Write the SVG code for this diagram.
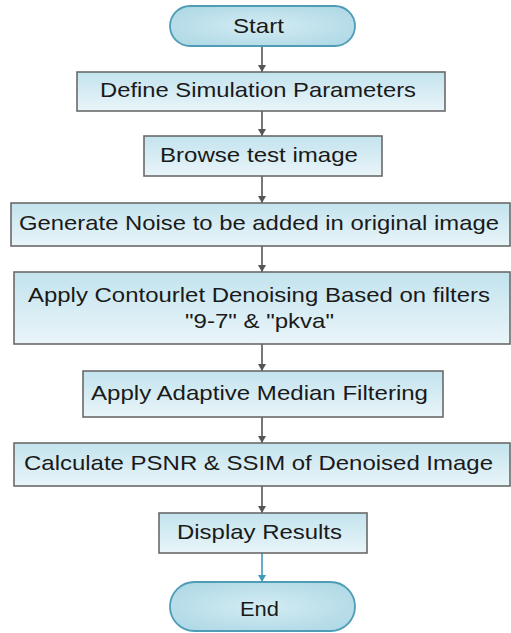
<svg xmlns="http://www.w3.org/2000/svg" width="511" height="633" viewBox="0 0 511 633">
<defs>
<linearGradient id="boxg" x1="0" y1="0" x2="0" y2="1">
<stop offset="0" stop-color="#c3e3ee"/>
<stop offset="1" stop-color="#e9f5f9"/>
</linearGradient>
<radialGradient id="pillg" cx="0.5" cy="0.5" r="0.6">
<stop offset="0" stop-color="#d3ecf3"/>
<stop offset="1" stop-color="#b0d9e6"/>
</radialGradient>
<marker id="ag" markerWidth="8" markerHeight="8" refX="7" refY="4" orient="auto" markerUnits="userSpaceOnUse" viewBox="0 0 8 8">
<path d="M0,0 L7,4 L0,8 Z" fill="#555"/>
</marker>
<marker id="at" markerWidth="8" markerHeight="8" refX="7" refY="4" orient="auto" markerUnits="userSpaceOnUse" viewBox="0 0 8 8">
<path d="M0,0 L7,4 L0,8 Z" fill="#3f9bb8"/>
</marker>
</defs>
<style>
.box{fill:url(#boxg);stroke:#6a6a6a;stroke-width:1.6}
.pill{fill:url(#pillg);stroke:#4e9cb6;stroke-width:1.8}
.t{font-family:"Liberation Sans",Arial,sans-serif;font-size:21px;fill:#1a1a1a;text-anchor:middle}
.c{stroke:#555;stroke-width:1.6;fill:none}
.ct{stroke:#3f9bb8;stroke-width:1.6;fill:none}
</style>
<rect width="511" height="633" fill="#ffffff"/>
<g id="connectors">
<line class="c" x1="262" y1="46" x2="262" y2="72" marker-end="url(#ag)"/>
<line class="c" x1="262" y1="111" x2="262" y2="136" marker-end="url(#ag)"/>
<line class="c" x1="262" y1="176" x2="262" y2="203" marker-end="url(#ag)"/>
<line class="c" x1="262" y1="246" x2="262" y2="272" marker-end="url(#ag)"/>
<line class="c" x1="262" y1="344" x2="262" y2="371" marker-end="url(#ag)"/>
<line class="c" x1="262" y1="417" x2="262" y2="443" marker-end="url(#ag)"/>
<line class="c" x1="262" y1="486" x2="262" y2="513" marker-end="url(#ag)"/>
<line class="ct" x1="262" y1="553" x2="262" y2="582" marker-end="url(#at)"/>
</g>
<g id="start">
<rect class="pill" x="170" y="6" width="185" height="40" rx="20" ry="20"/>
<text class="t" x="258.5" y="33" textLength="51" lengthAdjust="spacingAndGlyphs">Start</text>
</g>
<g id="define">
<rect class="box" x="77" y="72" width="368" height="39"/>
<text class="t" x="258" y="97" textLength="316" lengthAdjust="spacingAndGlyphs">Define Simulation Parameters</text>
</g>
<g id="browse">
<rect class="box" x="144" y="136" width="238" height="40"/>
<text class="t" x="259" y="162" textLength="198" lengthAdjust="spacingAndGlyphs">Browse test image</text>
</g>
<g id="generate">
<rect class="box" x="11" y="203" width="499" height="43"/>
<text class="t" x="259" y="230" textLength="480" lengthAdjust="spacingAndGlyphs">Generate Noise to be added in original image</text>
</g>
<g id="contourlet">
<rect class="box" x="14" y="272" width="496" height="72"/>
<text class="t" x="259" y="302" textLength="462" lengthAdjust="spacingAndGlyphs">Apply Contourlet Denoising Based on filters</text>
<text class="t" x="259.5" y="328" textLength="149" lengthAdjust="spacingAndGlyphs">"9-7" &amp; "pkva"</text>
</g>
<g id="adaptive">
<rect class="box" x="83" y="371" width="360" height="46"/>
<text class="t" x="259.5" y="400" textLength="337" lengthAdjust="spacingAndGlyphs">Apply Adaptive Median Filtering</text>
</g>
<g id="calculate">
<rect class="box" x="14" y="443" width="496" height="43"/>
<text class="t" x="258.5" y="470" textLength="469" lengthAdjust="spacingAndGlyphs">Calculate PSNR &amp; SSIM of Denoised Image</text>
</g>
<g id="display">
<rect class="box" x="159" y="513" width="208" height="40"/>
<text class="t" x="259.5" y="539" textLength="165" lengthAdjust="spacingAndGlyphs">Display Results</text>
</g>
<g id="end">
<rect class="pill" x="170" y="582" width="185" height="49" rx="24.5" ry="24.5"/>
<text class="t" x="259.5" y="616" textLength="39" lengthAdjust="spacingAndGlyphs">End</text>
</g>
</svg>
